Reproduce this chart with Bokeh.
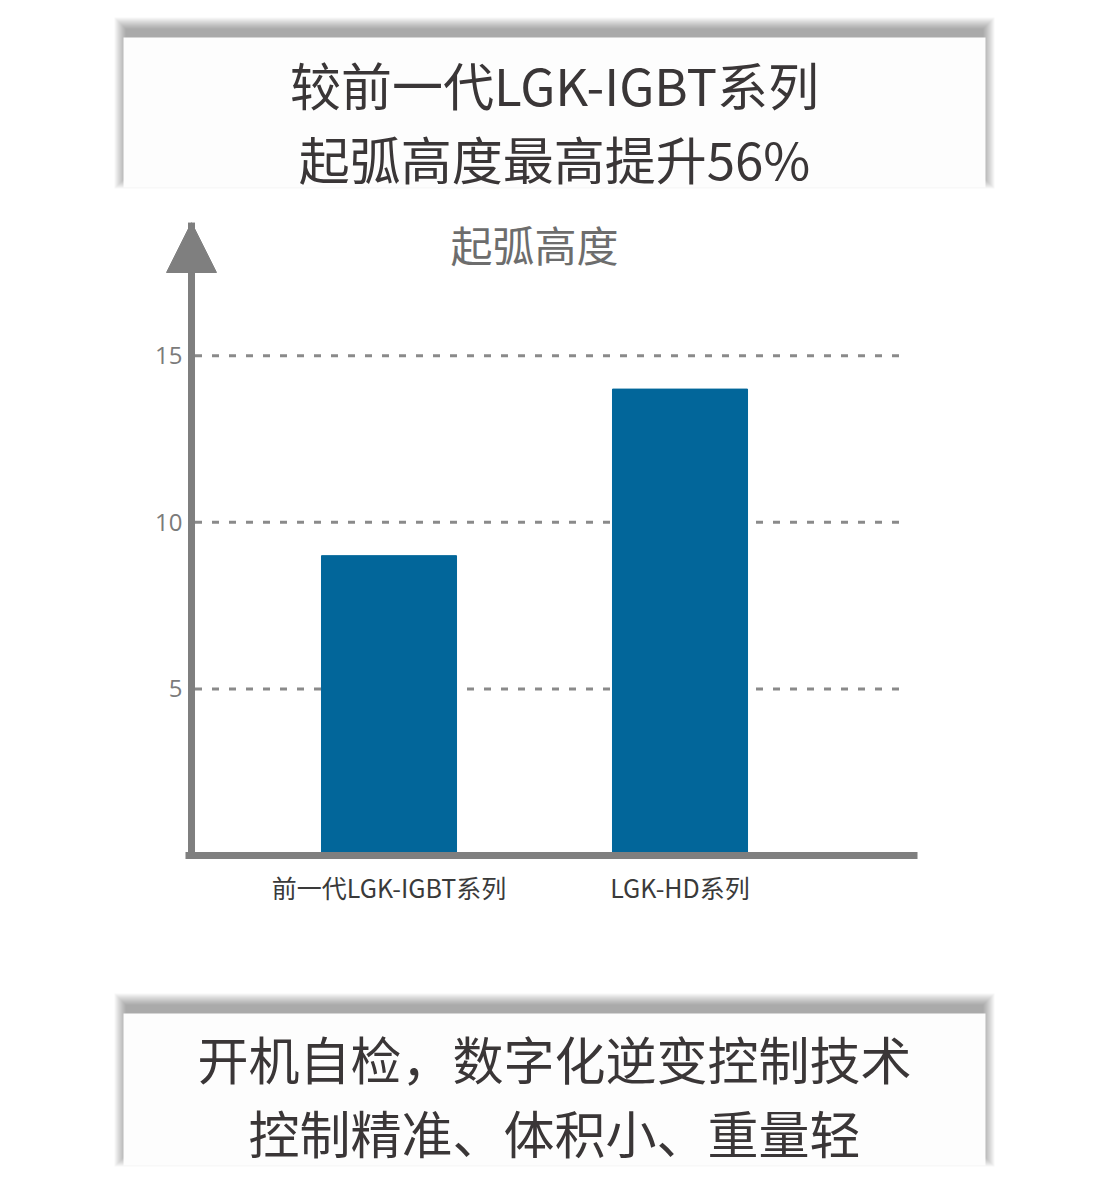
from bokeh.plotting import figure
from bokeh.layouts import column
from bokeh.models import Range1d, FixedTicker, Label, Arrow, NormalHead
from bokeh.embed import file_html
from bokeh.resources import INLINE

# data
categories = ['前一代LGK-IGBT系列', 'LGK-HD系列']
values = [9, 14]
y_ticks = [5, 10, 15]
chart_title = '起弧高度'
headline_lines = ['较前一代LGK-IGBT系列', '起弧高度最高提升56%']
footer_lines = ['开机自检，数字化逆变控制技术', '控制精准、体积小、重量轻']

BANNER_FONT = "Noto Sans CJK SC"
AXIS_GREY = "#7f7f7f"
WIDTH = 1086


def banner(top, bottom, box_top, box_bottom, lines, line_y):
	# a plain figure that uses picture pixels as its coordinates
	p = figure(width=WIDTH, height=bottom - top, x_range=Range1d(0, WIDTH), y_range=Range1d(bottom, top),
		x_axis_type=None, y_axis_type=None, toolbar_location=None, output_backend="svg",
		min_border=0, outline_line_color=None)
	p.grid.visible = False
	# soft drop shadow, shifted up
	for k in range(12):
		p.quad(left=125 - k, right=983 + k, top=box_top - 9 - k, bottom=box_bottom - 10 + k,
			fill_color="black", fill_alpha=0.03, line_color=None)
	p.quad(left=123, right=985, top=box_top, bottom=box_bottom, fill_color="#fdfdfd", line_color=None)
	for text, y in zip(lines, line_y):
		p.add_layout(Label(x=554, y=y, text=text, text_align="center", text_baseline="middle",
			text_font=BANNER_FONT, text_font_size="51px", text_color="#3a3637"))
	return p


top_banner = banner(0, 205, 37, 187, headline_lines, [83, 157])
bottom_banner = banner(980, 1190, 1013, 1165, footer_lines, [1057, 1131])

# bar chart: the frame spans the full width, the y axis sits at a fixed spot inside it
positions = list(range(len(categories)))
x_frame = (-1.3351, 2.3969)
y_axis_at = -0.6787
x_axis_end = 1.8162
grid_end = 1.757
y_hi = 19.0

p = figure(width=WIDTH, height=775, x_range=Range1d(*x_frame), y_range=Range1d(0, y_hi),
	toolbar_location=None, output_backend="svg", outline_line_color=None,
	min_border_left=0, min_border_right=0, min_border_top=17, min_border_bottom=125)
p.grid.visible = False

# dashed guide lines at the y ticks
p.segment(x0=[y_axis_at + 0.012] * len(y_ticks), x1=[grid_end] * len(y_ticks), y0=y_ticks, y1=y_ticks,
	line_color="#8a8a8a", line_width=3, line_dash="7 10")

p.vbar(x=positions, top=values, width=0.464, color="#02669a")

p.yaxis.ticker = FixedTicker(ticks=y_ticks)
p.yaxis.fixed_location = y_axis_at
p.xaxis.ticker = FixedTicker(ticks=positions)
p.xaxis.major_label_overrides = {i: c for i, c in zip(positions, categories)}
p.xaxis.bounds = (y_axis_at - 0.02, x_axis_end)

for ax in (p.xaxis, p.yaxis):
	ax.axis_line_color = AXIS_GREY
	ax.axis_line_width = 7
	ax.major_tick_line_color = None
	ax.minor_tick_line_color = None
	ax.major_tick_out = 0
	ax.major_tick_in = 0

p.yaxis.major_label_text_font = "Open Sans"
p.yaxis.major_label_text_font_size = "24px"
p.yaxis.major_label_text_color = "#7b7b7b"
p.yaxis.major_label_standoff = 9

p.xaxis.major_label_text_font = "Noto Sans CJK SC"
p.xaxis.major_label_text_font_size = "25px"
p.xaxis.major_label_text_color = "#3a3a3a"
p.xaxis.major_label_standoff = 13

# y axis arrow
p.add_layout(Arrow(end=NormalHead(size=50, fill_color=AXIS_GREY, line_color=AXIS_GREY),
	x_start=y_axis_at, y_start=0, x_end=y_axis_at, y_end=y_hi, line_color=AXIS_GREY, line_width=7))

p.add_layout(Label(x=0.5, y=18.36, text=chart_title, text_align="center", text_baseline="middle",
	text_font="Noto Sans CJK SC", text_font_size="42px", text_color="#6d6d6d"))

layout = column(top_banner, p, bottom_banner)

open("out.html", "w").write(file_html(layout, INLINE))
